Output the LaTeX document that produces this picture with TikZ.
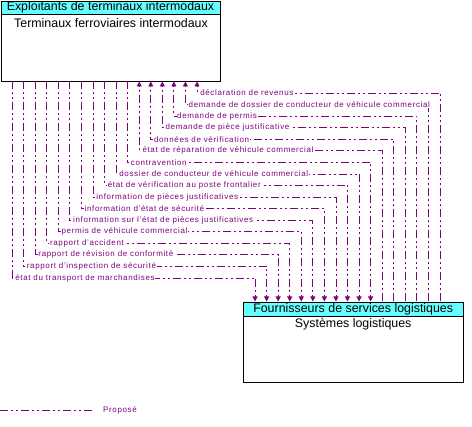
\documentclass[tikz,border=0pt]{standalone}
\usepackage{fontspec}
\setmainfont{Liberation Sans}
\usetikzlibrary{arrows.meta}
\definecolor{flowc}{RGB}{128,0,128}
\definecolor{headc}{RGB}{102,255,255}
\tikzset{
  flow/.style={draw=flowc, line width=0.8pt, dash pattern=on 8pt off 3pt on 2pt off 3pt on 2pt off 3pt},
  tip/.style={-{Triangle[length=5pt,width=5pt]}},
  flowlabel/.style={anchor=west, fill=white, inner sep=0.6pt, text=flowc, font=\fontsize{8}{9}\selectfont\addfontfeature{LetterSpace=8}},
  headtext/.style={font=\fontsize{12.4}{14}\selectfont, inner sep=0pt},
  boxframe/.style={draw=black, line width=0.8pt},
}
\begin{document}
\begin{tikzpicture}[x=1pt,y=-1pt]
\useasboundingbox (0,0) rectangle (472,427);
% top box
\filldraw[fill=headc, boxframe] (1,1) rectangle (220,14);
\draw[boxframe] (1,14) rectangle (220,81);
\node[headtext] (tophead) at (110.5,7.7) {Exploitants de terminaux intermodaux};
\node[headtext] (toptitle) at (111,22.8) {Terminaux ferroviaires intermodaux};
% bottom box
\filldraw[fill=headc, boxframe] (243.5,302) rectangle (463,316);
\draw[boxframe] (243.5,316) rectangle (463,382);
\node[headtext] (bothead) at (353.2,309.2) {Fournisseurs de services logistiques};
\node[headtext] (bottitle) at (353.2,324.3) {Systèmes logistiques};
% flows
\foreach \lab [count=\i from 0] in {%
  déclaration de revenus,
  demande de dossier de conducteur de véhicule commercial,
  demande de permis,
  demande de pièce justificative,
  données de vérification,
  état de réparation de véhicule commercial,
  contravention,
  dossier de conducteur de véhicule commercial,
  état de vérification au poste frontalier,
  information de pièces justificatives,
  information d'état de sécurité,
  information sur l'état de pièces justificatives,
  permis de véhicule commercial,
  rapport d'accident,
  rapport de révision de conformité,
  rapport d'inspection de sécurité,
  état du transport de marchandises}{
  \pgfmathsetmacro{\xt}{197-11.56*\i}
  \pgfmathsetmacro{\xb}{440-11.56*\i}
  \pgfmathsetmacro{\yy}{93+11.56*\i}
  \coordinate (t\i) at (\xt,81.5);
  \coordinate (c\i) at (\xb,\yy);
  \coordinate (b\i) at (\xb,301.5);
  \ifnum\i<6
    \draw[flow, tip] (b\i) -- (c\i) -- (t\i |- c\i) -- (t\i);
  \else
    \draw[flow, tip] (t\i) -- (t\i |- c\i) -- (c\i) -- (b\i);
  \fi
  \node[flowlabel] (l\i) at ([xshift=2.5pt]t\i |- c\i) {\lab};
}
% legend
\coordinate (lga) at (0,410);
\coordinate (lgb) at (93,410);
\draw[flow] (lga) -- (lgb);
\node[anchor=west, text=flowc, font=\fontsize{8}{9}\selectfont\addfontfeature{LetterSpace=8}, inner sep=0pt] (lgt) at (103,410) {Proposé};
\end{tikzpicture}
\end{document}
